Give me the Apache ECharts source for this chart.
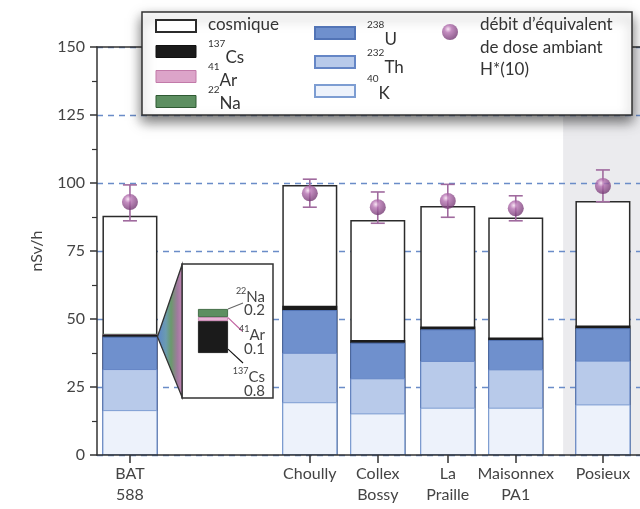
<!DOCTYPE html>
<html><head><meta charset="utf-8">
<script src="https://cdn.jsdelivr.net/npm/echarts@6/dist/echarts.min.js"></script>
<style>html,body{margin:0;padding:0;background:#fff}#c{width:640px;height:509px}</style>
</head><body><div id="c"></div>
<script>
// ---------- data ----------
const sites = ['BAT\n588', 'Choully', 'Collex\nBossy', 'La\nPraille', 'Maisonnex\nPA1', 'Posieux'];
const sitePos = [0.48, 3.10, 4.09, 5.11, 6.10, 7.37];   // position of each site on the x scale
const k40    = [16.5, 19.4, 15.3, 17.4, 17.4, 18.6];
const th232  = [15.1, 18.2, 12.9, 17.2, 14.1, 16.1];
const u238   = [11.9, 15.7, 13.1, 11.6, 10.8, 11.9];
const cs137  = [0.8, 1.6, 1.0, 1.0, 0.9, 1.0];
const ar41   = [0.1, null, null, null, null, null];
const na22   = [0.2, null, null, null, null, null];
const cosmic = [43.4, 44.4, 44.1, 44.3, 44.1, 45.8];
const dose     = [93.0, 96.2, 91.1, 93.4, 90.7, 98.9];
const doseLow  = [86.1, 91.1, 85.2, 87.4, 86.1, 93.1];
const doseHigh = [99.3, 101.4, 96.7, 99.5, 95.3, 104.8];
const yTicks = [0, 25, 50, 75, 100, 125, 150];
const xRange = [0, 7.91];
const highlightRange = [6.79, 7.91];
const insetNames  = ['137Cs', '41Ar', '22Na'];
const insetValues = [0.8, 0.1, 0.2];
const legendNames1 = ['cosmique', '137Cs', '41Ar', '22Na'];
const legendNames2 = ['238U', '232Th', '40K'];
const doseLines = ['débit d’équivalent', 'de dose ambiant', 'H*(10)'];

// ---------- helpers ----------
const F = 'Lato, "Open Sans", sans-serif';
const mctx = document.createElement('canvas').getContext('2d');
function textW(t, size) { mctx.font = size + 'px Lato'; return mctx.measureText(t).width; }
function isoParts(name) { const m = /^(\d+)(\D+)$/.exec(name); return m ? [m[1], m[2]] : [null, name]; }

// layers from bottom to top
const layers = [
  {name: '40K', vals: k40, color: '#edf2fb', border: '#7d9dd2', bw: 1},
  {name: '232Th', vals: th232, color: '#b8caea', border: '#6586c6', bw: 1},
  {name: '238U', vals: u238, color: '#6f90cd', border: '#5274b6', bw: 1},
  {name: '137Cs', vals: cs137, color: '#1b1b1b', border: '#1b1b1b', bw: 0},
  {name: '41Ar', vals: ar41, color: '#dca4c9', border: '#dca4c9', bw: 0},
  {name: '22Na', vals: na22, color: '#5d8f61', border: '#5d8f61', bw: 0},
  {name: 'cosmique', vals: cosmic, color: '#ffffff', border: '#2b2b2b', bw: 1.5}
];
const legendStyle = {
  '41Ar': {borderColor: '#c27aa9', borderWidth: 1},
  '22Na': {borderColor: '#2f5a33', borderWidth: 1},
  '137Cs': {borderColor: '#111', borderWidth: 1}
};
const insetColors = {'137Cs': '#1b1b1b', '41Ar': '#e7b5d6', '22Na': '#5d8f61'};
const insetBorders = {'137Cs': '#111', '41Ar': '#c27aa9', '22Na': '#2f5a33'};

const sphere = new echarts.graphic.RadialGradient(0.38, 0.32, 0.75, [
  {offset: 0, color: '#f6ddf0'}, {offset: 0.3, color: '#b470b0'}, {offset: 1, color: '#6a3069'}
]);

const series = [];
// gray highlight band
series.push({
  type: 'line', data: [], xAxisIndex: 0, yAxisIndex: 0, z: 1, silent: true,
  markArea: {silent: true, itemStyle: {color: '#ebebee'},
    data: [[{xAxis: highlightRange[0]}, {xAxis: highlightRange[1]}]]}
});
// stacked bars: each layer drawn from 0 up to its cumulative top, upper layers underneath
const running = sitePos.map(() => 0);
layers.forEach((d, j) => {
  const tops = d.vals.map((v, i) => {
    if (v == null) return '-';
    running[i] += v;
    return +running[i].toFixed(3);
  });
  series.push({
    name: d.name, type: 'bar', barWidth: 55, barGap: '-100%', xAxisIndex: 0, yAxisIndex: 0, z: 9 - j,
    data: tops.map((t, i) => [sitePos[i], t]),
    itemStyle: {color: d.color, borderColor: d.border, borderWidth: d.bw},
    silent: true
  });
});
series.push({
  name: 'err', type: 'custom', xAxisIndex: 0, yAxisIndex: 0, z: 11, silent: true,
  data: dose.map((v, i) => [sitePos[i], doseLow[i], doseHigh[i]]),
  encode: {x: 0, y: [1, 2]},
  renderItem: function (params, api) {
    const x = api.value(0);
    const lo = api.coord([x, api.value(1)]);
    const hi = api.coord([x, api.value(2)]);
    const w = 7, st = {stroke: '#a06a9e', lineWidth: 1.6};
    return {type: 'group', children: [
      {type: 'line', shape: {x1: lo[0], y1: lo[1], x2: hi[0], y2: hi[1]}, style: st},
      {type: 'line', shape: {x1: lo[0] - w, y1: lo[1], x2: lo[0] + w, y2: lo[1]}, style: st},
      {type: 'line', shape: {x1: hi[0] - w, y1: hi[1], x2: hi[0] + w, y2: hi[1]}, style: st}
    ]};
  }
});
series.push({
  name: 'H*(10)', type: 'scatter', xAxisIndex: 0, yAxisIndex: 0, z: 12, silent: true,
  symbol: 'circle', symbolSize: 16,
  data: dose.map((v, i) => [sitePos[i], v]),
  itemStyle: {color: sphere}
});
// inset stacked bar
insetNames.forEach((n, i) => {
  series.push({
    name: 'inset-' + n, type: 'bar', stack: 'inset', barWidth: 30, xAxisIndex: 1, yAxisIndex: 1, z: 15,
    data: [insetValues[i]], silent: true,
    itemStyle: {color: insetColors[n], borderColor: insetBorders[n], borderWidth: 0.8}
  });
});

const insetMax = insetValues.reduce((a, b) => a + b, 0);
const emptyLegendText = {fontSize: 6, lineHeight: 6};

const option = {
  animation: false,
  textStyle: {fontFamily: F},
  grid: [
    {left: 97, right: 0, top: 47, bottom: 54, outerBoundsMode: 'none', containLabel: false},
    {left: 198, top: 309, width: 30, height: 44, z: 15, outerBoundsMode: 'none', containLabel: false}
  ],
  xAxis: [
    {
      type: 'value', gridIndex: 0, min: xRange[0], max: xRange[1], z: 10,
      axisLine: {show: true, lineStyle: {color: '#333', width: 1.5}},
      axisTick: {show: true, customValues: sitePos, length: 8, lineStyle: {color: '#333', width: 1.5}},
      axisLabel: {show: true, customValues: sitePos, margin: 8, fontSize: 16, lineHeight: 21, color: '#444', fontFamily: F,
        formatter: v => { const i = sitePos.indexOf(v); return i >= 0 ? sites[i] : ''; }},
      splitLine: {show: false}
    },
    {type: 'category', gridIndex: 1, data: ['BAT 588'], show: false},
    {
      type: 'value', gridIndex: 0, min: xRange[0], max: xRange[1], position: 'top', z: 10,
      axisLine: {show: true, onZero: false, lineStyle: {color: '#333', width: 1.5}},
      axisTick: {show: false}, axisLabel: {show: false}, splitLine: {show: false}
    }
  ],
  yAxis: [
    {
      type: 'value', gridIndex: 0, min: yTicks[0], max: yTicks[yTicks.length - 1],
      interval: yTicks[1] - yTicks[0], z: 2,
      name: 'nSv/h', nameLocation: 'middle', nameGap: 52,
      nameTextStyle: {fontSize: 16, color: '#444', fontFamily: F},
      axisLine: {show: true, lineStyle: {color: '#333', width: 1.5}},
      axisTick: {show: true, length: 7, lineStyle: {color: '#333', width: 1.5}},
      minorTick: {show: true, splitNumber: 2, length: 5, lineStyle: {color: '#333', width: 1.2}},
      axisLabel: {fontSize: 16, color: '#444', margin: 12, fontFamily: F},
      splitLine: {show: true, lineStyle: {color: '#6a8cc8', type: [6, 5], width: 1.3}}
    },
    {
      type: 'value', gridIndex: 1, min: 0, max: insetMax,
      name: 'nSv/h', nameLocation: 'middle', nameGap: 6,
      nameTextStyle: {fontSize: 12, color: '#333', fontFamily: F},
      axisLine: {show: false}, axisTick: {show: false}, axisLabel: {show: false}, splitLine: {show: false}
    }
  ],
  legend: [
    {
      data: legendNames1.map(n => ({name: n, itemStyle: legendStyle[n]})),
      left: 155, top: 19, orient: 'vertical', padding: 0,
      itemGap: 12, itemWidth: 40, itemHeight: 12, icon: 'rect', z: 30, selectedMode: false,
      formatter: () => '', textStyle: emptyLegendText
    },
    {
      data: legendNames2, left: 314, top: 26, orient: 'vertical', padding: 0,
      itemGap: 15, itemWidth: 40, itemHeight: 12, icon: 'rect', z: 30, selectedMode: false,
      formatter: () => '', textStyle: emptyLegendText
    },
    {
      data: ['H*(10)'], left: 442, top: 24, orient: 'vertical', padding: 0,
      itemWidth: 16, itemHeight: 16, icon: 'circle', z: 30, selectedMode: false,
      formatter: () => '', textStyle: emptyLegendText
    }
  ],
  series: series
};

const chart = echarts.init(document.getElementById('c'), null, {renderer: 'canvas'});
chart.setOption(option);

// ---------- annotations ----------
const stackTop0 = k40[0] + th232[0] + u238[0];
const apex = chart.convertToPixel({xAxisIndex: 0, yAxisIndex: 0}, [sitePos[0], stackTop0]);
apex[0] += 27.5;
const box = {x: 182, y: 264, w: 91, h: 134};

const graphics = [
  {type: 'rect', z: 20, shape: {x: 142, y: 12, width: 490, height: 103},
    style: {fill: '#fff', stroke: '#333', lineWidth: 1.5, shadowBlur: 12, shadowOffsetY: 6, shadowColor: 'rgba(0,0,0,0.55)'}},
  {type: 'rect', z: 13, shape: {x: box.x, y: box.y, width: box.w, height: box.h},
    style: {fill: '#fff', stroke: '#333', lineWidth: 1.5}},
  {type: 'polygon', z: 13, shape: {points: [apex, [box.x, box.y + 1], [box.x, box.y + box.h - 1]]},
    style: {fill: new echarts.graphic.LinearGradient(0, 0, 1, 0, [
      {offset: 0, color: '#5a84cc'}, {offset: 0.35, color: '#6b9bb0'}, {offset: 0.55, color: '#6a9a6c'},
      {offset: 0.8, color: '#a07a9e'}, {offset: 1, color: '#c485b6'}]),
      stroke: '#333', lineWidth: 1.3}}
];

// legend labels (mass number as a left superscript, then element symbol)
function addIsoLabel(name, x, ySup, yMain, supSize, mainSize, z, color) {
  const [sup, main] = isoParts(name);
  let xm = x;
  if (sup) {
    graphics.push({type: 'text', z: z, x: x, y: ySup,
      style: {text: sup, fontSize: supSize, fontFamily: F, fill: color, align: 'left', verticalAlign: 'middle'}});
    xm = x + textW(sup, supSize);
  }
  graphics.push({type: 'text', z: z, x: xm, y: yMain,
    style: {text: main, fontSize: mainSize, fontFamily: F, fill: color, align: 'left', verticalAlign: 'middle'}});
}
const legRow1 = [25, 51, 74, 97];
const legRow2 = [32, 60, 86];
legendNames1.forEach((n, i) => {
  const sup = isoParts(n)[0];
  if (sup) addIsoLabel(n, 208, legRow1[i] - 7, legRow1[i] + 7, 10, 17, 31, '#333');
  else addIsoLabel(n, 208, 0, legRow1[i], 10, 17, 31, '#333');
});
legendNames2.forEach((n, i) => addIsoLabel(n, 367, legRow2[i] - 7, legRow2[i] + 8, 10, 17, 31, '#333'));
doseLines.forEach((l, i) => graphics.push({type: 'text', z: 31, x: 480, y: 25 + i * 22.5,
  style: {text: l, fontSize: 17, fontFamily: F, fill: '#333', align: 'left', verticalAlign: 'middle'}}));

// inset labels and leader lines
const labelPos = {'137Cs': [371, 377, 391], '41Ar': [329, 335, 349], '22Na': [291, 297, 310]};
const leaderEnd = {'137Cs': [243, 363], '41Ar': [242, 331], '22Na': [243, 303]};
const leaderAt = {'137Cs': 0.12, '41Ar': 0.85, '22Na': 1.0};
const leaderColor = {'137Cs': '#111', '41Ar': '#c0609f', '22Na': '#666'};
let cum = 0;
insetNames.forEach((n, i) => {
  const v = insetValues[i];
  const start = chart.convertToPixel({xAxisIndex: 1, yAxisIndex: 1}, ['BAT 588', cum + v * leaderAt[n]]);
  cum += v;
  graphics.push({type: 'line', z: 16, shape: {x1: start[0] + 15, y1: start[1], x2: leaderEnd[n][0], y2: leaderEnd[n][1]},
    style: {stroke: leaderColor[n], lineWidth: 1.1}});
  const [sup, main] = isoParts(n);
  const p = labelPos[n];
  const wMain = textW(main, 15);
  graphics.push({type: 'text', z: 16, x: 265 - wMain, y: p[0],
    style: {text: sup, fontSize: 9, fontFamily: F, fill: '#444', align: 'right', verticalAlign: 'middle'}});
  graphics.push({type: 'text', z: 16, x: 265, y: p[1],
    style: {text: main, fontSize: 15, fontFamily: F, fill: '#444', align: 'right', verticalAlign: 'middle'}});
  graphics.push({type: 'text', z: 16, x: 265, y: p[2],
    style: {text: v.toFixed(1), fontSize: 15, fontFamily: F, fill: '#444', align: 'right', verticalAlign: 'middle'}});
});
chart.setOption({graphic: {elements: graphics}});
</script>
</body></html>
